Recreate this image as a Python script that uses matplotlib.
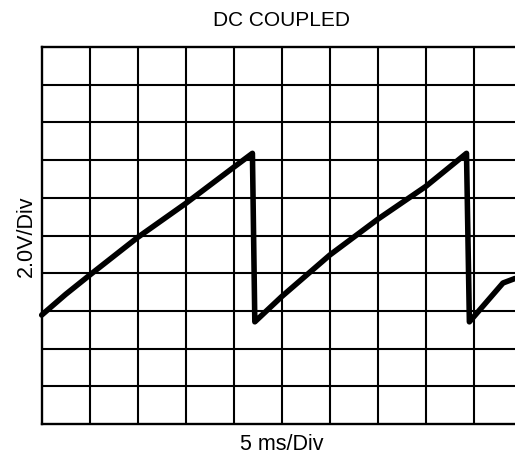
import matplotlib
matplotlib.use("Agg")
import matplotlib.pyplot as plt

# Sawtooth trace, in screen divisions (x: 5 ms/div, y: 2.0 V/div, 0 = bottom line)
ramp1_x = [0.0, 0.5, 1.0, 2.0, 3.0, 4.0, 4.39]
ramp1_y = [2.89, 3.44, 3.95, 4.95, 5.85, 6.81, 7.18]
ramp2_x = [4.44, 5.0, 6.0, 7.0, 8.0, 8.85]
ramp2_y = [2.71, 3.38, 4.48, 5.43, 6.30, 7.18]
ramp3_x = [8.91, 9.61, 9.86]
ramp3_y = [2.71, 3.74, 3.86]

title_text = "DC COUPLED"
x_label = "5 ms/Div"
y_label = "2.0V/Div"

n_xdiv = 10
n_ydiv = 10

W, H = 515, 454
fig = plt.figure(figsize=(W / 100, H / 100), dpi=100)

left_px, top_px, bottom_px = 41.7, 47.0, 424.0
div_w = 48.0
right_px = W  # graticule runs off the right edge
x_max = (right_px - left_px) / div_w

ax = fig.add_axes([left_px / W, 1 - bottom_px / H,
                   (right_px - left_px) / W, (bottom_px - top_px) / H])
ax.set_xlim(0, x_max)
ax.set_ylim(0, n_ydiv)
ax.set_xticks([])
ax.set_yticks([])
for side in ("left", "top", "bottom"):
    ax.spines[side].set_linewidth(1.7)
    ax.spines[side].set_color("black")
ax.spines["right"].set_visible(False)

# Graticule
for i in range(1, n_xdiv):
    ax.axvline(i, color="black", lw=1.5, zorder=1)
for j in range(1, n_ydiv):
    ax.axhline(j, color="black", lw=1.5, zorder=1)

# Trace: ramps joined by the vertical flyback edges
tx = ramp1_x + ramp2_x + ramp3_x
ty = ramp1_y + ramp2_y + ramp3_y
ax.plot(tx, ty, color="black", lw=4.0, solid_joinstyle="round",
        solid_capstyle="round", zorder=3, clip_on=False)

fam = ["Liberation Sans", "DejaVu Sans"]
center_x = (left_px + n_xdiv * div_w / 2) / W
fig.text(center_x, 1 - 20 / H, title_text, ha="center", va="center",
         fontsize=15, family=fam)
fig.text(center_x, 1 - 444 / H, x_label, ha="center", va="center",
         fontsize=15.5, family=fam)
fig.text(26 / W, 1 - 236 / H, y_label, ha="center", va="center",
         rotation=90, fontsize=15.5, family=fam)

fig.savefig("out.png", dpi=100, facecolor="white")
